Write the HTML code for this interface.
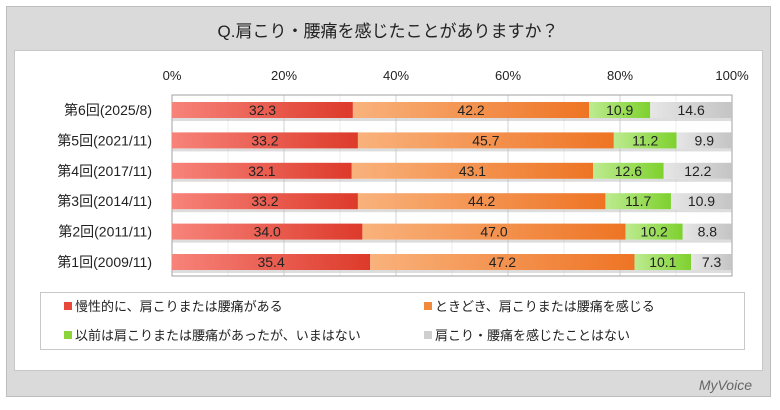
<!DOCTYPE html>
<html><head><meta charset="utf-8"><style>
body{margin:0;width:780px;height:405px;background:#fff;font-family:"Liberation Sans","Noto Sans CJK JP",sans-serif;overflow:hidden}
</style></head><body>
<svg width="780" height="405" xmlns="http://www.w3.org/2000/svg" style="font-family:'Liberation Sans','Noto Sans CJK JP',sans-serif">
<defs>
<linearGradient id="gR" x1="0" x2="1"><stop offset="0" stop-color="#f7837a"/><stop offset="1" stop-color="#dd3a2a"/></linearGradient>
<linearGradient id="gO" x1="0" x2="1"><stop offset="0" stop-color="#f9b27c"/><stop offset="1" stop-color="#ee7424"/></linearGradient>
<linearGradient id="gG" x1="0" x2="1"><stop offset="0" stop-color="#bdeb90"/><stop offset="1" stop-color="#7ed12e"/></linearGradient>
<linearGradient id="gY" x1="0" x2="1"><stop offset="0" stop-color="#e6e6e6"/><stop offset="1" stop-color="#c4c4c4"/></linearGradient>
</defs>
<rect x="6.5" y="6.5" width="764" height="390" fill="#dadada" stroke="#bdbdbd"/>
<text x="388" y="37" text-anchor="middle" font-size="17" fill="#222">Q.肩こり・腰痛を感じたことがありますか？</text>
<rect x="14.5" y="50.5" width="748" height="320" fill="#fff" stroke="#c8c8c8"/>
<g id="plot"></g>
<rect x="40.5" y="292.5" width="704" height="57" fill="#fff" stroke="#c8c8c8"/>
<g font-size="13" fill="#222">
<g><rect x="64" y="302" width="8" height="8" fill="#e8483a"/><text x="75" y="311">慢性的に、肩こりまたは腰痛がある</text></g>
<g><rect x="424" y="302" width="8" height="8" fill="#f28a3c"/><text x="435" y="311">ときどき、肩こりまたは腰痛を感じる</text></g>
<g><rect x="64" y="331" width="8" height="8" fill="#8cd43c"/><text x="75" y="340">以前は肩こりまたは腰痛があったが、いまはない</text></g>
<g><rect x="424" y="331" width="8" height="8" fill="#cfcfcf"/><text x="435" y="340">肩こり・腰痛を感じたことはない</text></g>
</g>
<text x="752" y="390" text-anchor="end" font-size="14" fill="#666" font-style="italic">MyVoice</text>
</svg>
<script>
const categories=["第6回(2025/8)","第5回(2021/11)","第4回(2017/11)","第3回(2014/11)","第2回(2011/11)","第1回(2009/11)"];
const chronic=[32.3,33.2,32.1,33.2,34.0,35.4];
const sometimes=[42.2,45.7,43.1,44.2,47.0,47.2];
const past=[10.9,11.2,12.6,11.7,10.2,10.1];
const never=[14.6,9.9,12.2,10.9,8.8,7.3];
const ticks=[0,20,40,60,80,100];
const NS="http://www.w3.org/2000/svg";
const plotG=document.getElementById('plot');
const px0=172,px1=732,pTop=95,pBottom=276;
const xs=v=>px0+(px1-px0)*v/100;
const yc=i=>110+i*30.4;
function mk(t,a,txt){const e=document.createElementNS(NS,t);for(const k in a)e.setAttribute(k,a[k]);if(txt!=null)e.textContent=txt;plotG.appendChild(e);return e;}
for(let v=0;v<=100;v+=10){const l=mk('line',{x1:xs(v),x2:xs(v),y1:pTop,y2:pBottom,stroke:v%20?'#ececec':'#d0d0d0'});

}
const box=mk('rect',{x:px0,y:pTop,width:px1-px0,height:pBottom-pTop,fill:'none',stroke:'#a0a0a0'});


ticks.forEach(t=>{const e=mk('text',{x:xs(t),y:80,'text-anchor':'middle','font-size':13,fill:'#222'},t+'%');

});
const series=[[chronic,'url(#gR)','chronic'],[sometimes,'url(#gO)','sometimes'],[past,'url(#gG)','past'],[never,'url(#gY)','never']];
categories.forEach((c,i)=>{
const lab=mk('text',{x:152,y:yc(i)+5,'text-anchor':'end','font-size':14,fill:'#222'},c);


const sh=mk('rect',{x:px0,y:yc(i)+8,width:px1-px0,height:3,fill:'#bbb',opacity:0.5});


let acc=0;
series.forEach(([arr,fill,nm])=>{
const v=arr[i];
const r=mk('rect',{x:xs(acc),y:yc(i)-8,width:xs(acc+v)-xs(acc),height:16,fill:fill});


const t=mk('text',{x:(xs(acc)+xs(acc+v))/2,y:yc(i)+5,'text-anchor':'middle','font-size':14,fill:'#222'},v.toFixed(1));


acc+=v;});
});
</script>
</body></html>
